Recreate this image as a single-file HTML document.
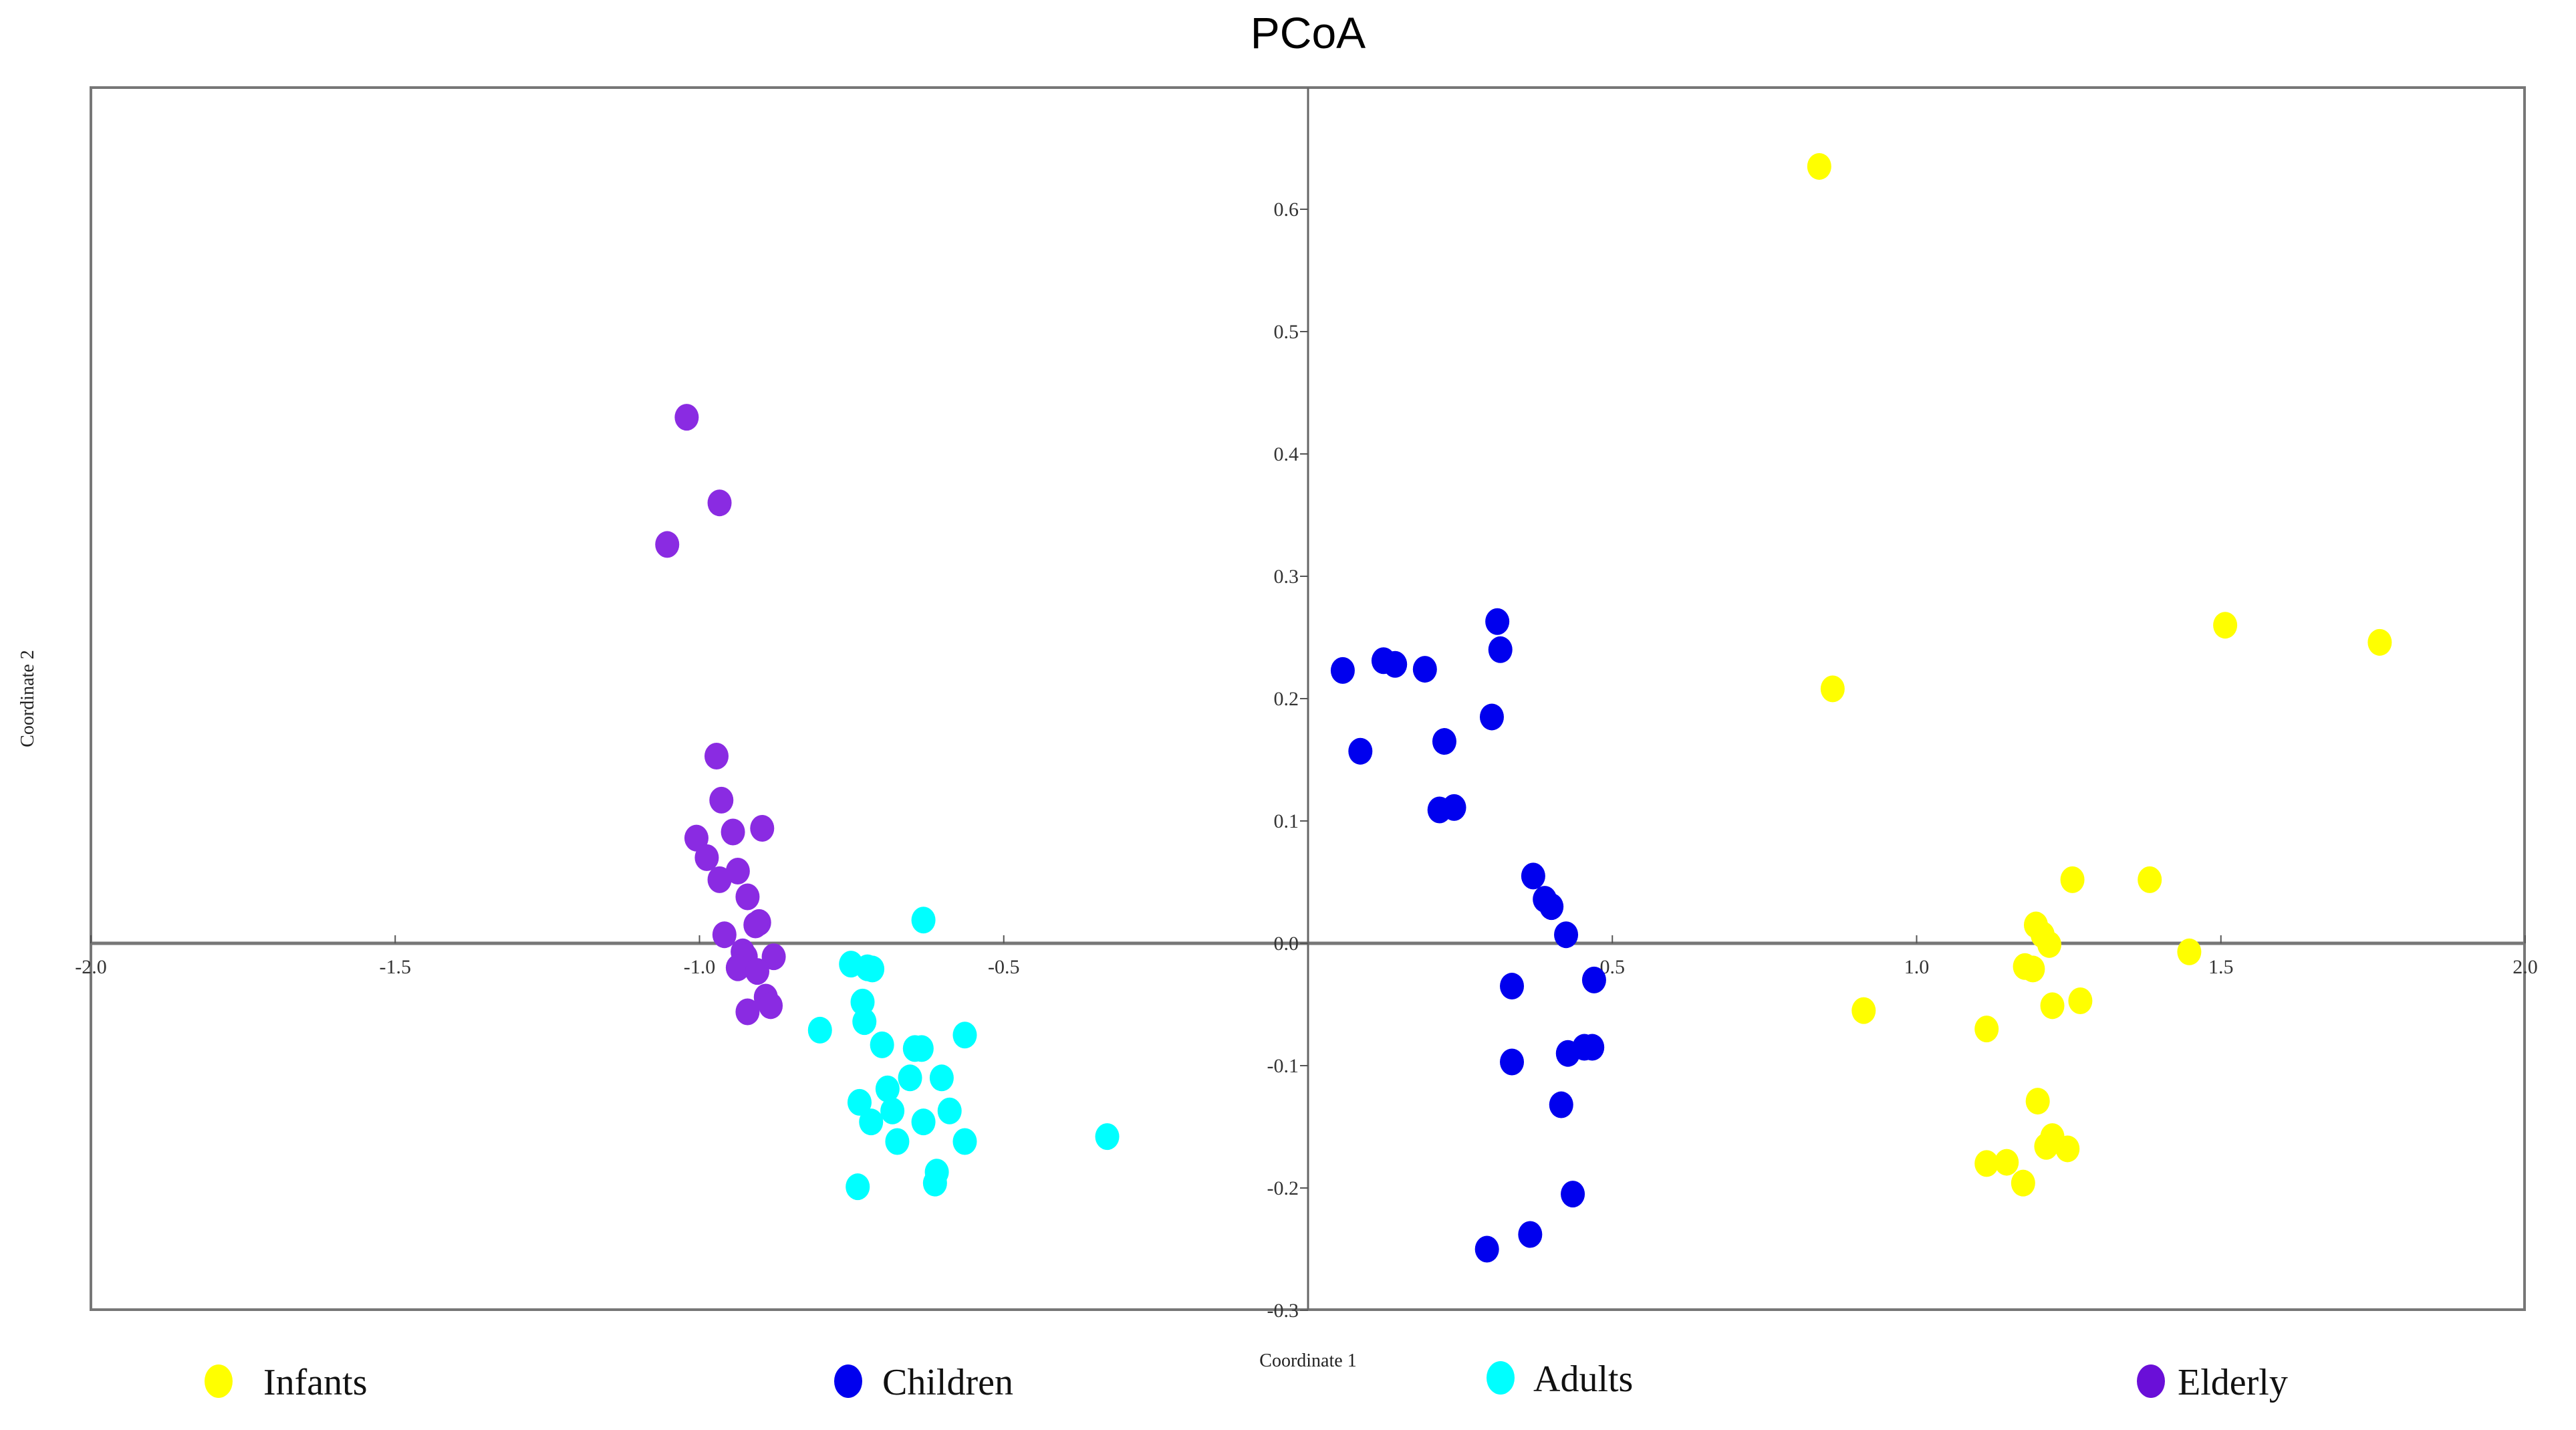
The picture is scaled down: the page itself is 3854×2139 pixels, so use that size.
<!DOCTYPE html>
<html><head><meta charset="utf-8"><style>
html,body{margin:0;padding:0;background:#fff;}
svg{display:block;}
</style></head><body>
<svg id="chart" width="3854" height="2139" viewBox="0 0 3854 2139" xmlns="http://www.w3.org/2000/svg">
<rect x="0" y="0" width="3854" height="2139" fill="#fff"/>
<text x="1957" y="72" font-family="Liberation Sans, sans-serif" font-size="66" text-anchor="middle" fill="#000">PCoA</text>
<rect x="136" y="131" width="3641" height="1828" fill="none" stroke="#777" stroke-width="4"/>
<g id="axes"></g>
<g id="points"></g>
<text x="1957" y="2044" font-family="Liberation Serif, serif" font-size="28" text-anchor="middle" fill="#222">Coordinate 1</text>
<text x="0" y="0" transform="translate(50,1045) rotate(-90)" font-family="Liberation Serif, serif" font-size="28" text-anchor="middle" fill="#222">Coordinate 2</text>
<g id="legend"></g>
</svg>
<script>
const NS='http://www.w3.org/2000/svg';
const xTicks=[-2.0,-1.5,-1.0,-0.5,0.5,1.0,1.5,2.0];
const xTickLabels=['-2.0','-1.5','-1.0','-0.5','0.5','1.0','1.5','2.0'];
const yTicks=[0.6,0.5,0.4,0.3,0.2,0.1,0.0,-0.1,-0.2,-0.3];
const yTickLabels=['0.6','0.5','0.4','0.3','0.2','0.1','0.0','-0.1','-0.2','-0.3'];
const groups=['Infants','Children','Adults','Elderly'];
const colors=['#ffff00','#0000ee','#00ffff','#8a2be2'];
const legendColors=['#ffff00','#0000ee','#00ffff','#6a0fd8'];
const infantsX=[0.840,0.862,1.507,1.761,1.256,1.383,1.196,1.207,1.218,1.448,1.178,1.191,0.913,1.223,1.269,1.115,1.199,1.223,1.213,1.248,1.115,1.148,1.175];
const infantsY=[0.635,0.208,0.260,0.246,0.052,0.052,0.015,0.007,-0.001,-0.007,-0.019,-0.021,-0.055,-0.051,-0.047,-0.070,-0.129,-0.158,-0.166,-0.168,-0.180,-0.179,-0.196];
const childrenX=[0.311,0.316,0.057,0.124,0.143,0.192,0.302,0.086,0.224,0.216,0.240,0.370,0.389,0.400,0.424,0.470,0.335,0.335,0.427,0.454,0.467,0.416,0.435,0.365,0.294];
const childrenY=[0.263,0.240,0.223,0.231,0.228,0.224,0.185,0.157,0.165,0.109,0.111,0.055,0.036,0.030,0.007,-0.030,-0.035,-0.097,-0.090,-0.085,-0.085,-0.132,-0.205,-0.238,-0.250];
const adultsX=[-0.632,-0.751,-0.724,-0.716,-0.732,-0.729,-0.802,-0.564,-0.700,-0.646,-0.635,-0.654,-0.602,-0.691,-0.737,-0.683,-0.589,-0.718,-0.632,-0.675,-0.564,-0.330,-0.610,-0.613,-0.740];
const adultsY=[0.019,-0.017,-0.020,-0.021,-0.048,-0.064,-0.071,-0.075,-0.083,-0.086,-0.086,-0.110,-0.110,-0.119,-0.130,-0.137,-0.137,-0.146,-0.146,-0.162,-0.162,-0.158,-0.187,-0.196,-0.199];
const elderlyX=[-1.021,-0.967,-1.053,-0.972,-0.964,-1.005,-0.945,-0.897,-0.988,-0.937,-0.967,-0.921,-0.902,-0.908,-0.959,-0.929,-0.924,-0.878,-0.937,-0.905,-0.891,-0.883,-0.921];
const elderlyY=[0.430,0.360,0.326,0.153,0.117,0.086,0.091,0.094,0.070,0.059,0.052,0.038,0.017,0.015,0.007,-0.007,-0.011,-0.011,-0.020,-0.023,-0.044,-0.051,-0.056];

const X0=1957, XS=910.5, Y0=1411, YS=1830;
function sx(v){return X0+v*XS;}
function sy(v){return Y0-v*YS;}
function mk(tag,attrs,parent){const e=document.createElementNS(NS,tag);for(const k in attrs)e.setAttribute(k,attrs[k]);parent.appendChild(e);return e;}

const axes=document.getElementById('axes');
let l=mk('line',{x1:136,x2:3777,y1:sy(0),y2:sy(0),stroke:'#777','stroke-width':5},axes);


l=mk('line',{x1:sx(0),x2:sx(0),y1:131,y2:1959,stroke:'#666','stroke-width':3},axes);


xTicks.forEach((v,i)=>{
  const t=mk('line',{x1:sx(v),x2:sx(v),y1:sy(0)-12,y2:sy(0),stroke:'#555','stroke-width':2},axes);
  
  
  const tx=mk('text',{x:sx(v),y:sy(0)+45,'font-family':'Liberation Serif, serif','font-size':30,'text-anchor':'middle',fill:'#333'},axes);
  tx.textContent=xTickLabels[i];
  
  
});
yTicks.forEach((v,i)=>{
  const t=mk('line',{x1:sx(0)-12,x2:sx(0),y1:sy(v),y2:sy(v),stroke:'#555','stroke-width':2},axes);
  
  
  const tx=mk('text',{x:sx(0)-14,y:sy(v)+10,'font-family':'Liberation Serif, serif','font-size':30,'text-anchor':'end',fill:'#333'},axes);
  tx.textContent=yTickLabels[i];
  
  
});

const pts=document.getElementById('points');
const series=[[infantsX,infantsY],[childrenX,childrenY],[adultsX,adultsY],[elderlyX,elderlyY]];
series.forEach((s,g)=>{
  s[0].forEach((xv,i)=>{
    const c=mk('ellipse',{cx:sx(xv),cy:sy(s[1][i]),rx:18,ry:20,fill:colors[g]},pts);
    
    
  });
});

const leg=document.getElementById('legend');
const legMX=[327,1269,2245,3218], legTX=[394,1320,2294,3258], legY=[2068,2068,2063,2068];
groups.forEach((g,i)=>{
  const m=mk('ellipse',{cx:legMX[i],cy:legY[i]-2,rx:21,ry:25,fill:legendColors[i]},leg);
  
  
  const t=mk('text',{x:legTX[i],y:legY[i]+18,'font-family':'Liberation Serif, serif','font-size':56,fill:'#111'},leg);
  t.textContent=g;
  
  
});
</script>
</body></html>
